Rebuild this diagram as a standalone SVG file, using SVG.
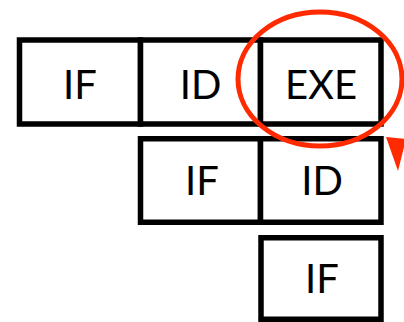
<svg xmlns="http://www.w3.org/2000/svg" width="404" height="322" viewBox="0 0 404 322">
<style>
.box{fill:#fff;stroke:#000;stroke-width:5.5}
.lbl{font-family:Lato,"Liberation Sans",sans-serif;font-size:40px;fill:#000;text-anchor:middle}
.hl{fill:none;stroke:#ff2a00;stroke-width:5}
</style>
<rect width="404" height="322" fill="#fff"/>
<g id="r1-if"><rect class="box" x="19.5" y="40" width="121" height="84"/><text class="lbl" x="80" y="99">IF</text></g>
<g id="r1-id"><rect class="box" x="140.5" y="40" width="120" height="84"/><text class="lbl" x="200.5" y="99">ID</text></g>
<g id="r1-exe"><rect class="box" x="260.5" y="40" width="120.5" height="84"/><text class="lbl" x="321" y="99">EXE</text></g>
<g id="r2-if"><rect class="box" x="140.5" y="138.75" width="120" height="83.5"/><text class="lbl" x="202" y="195">IF</text></g>
<g id="r2-id"><rect class="box" x="260.5" y="138.75" width="120.5" height="83.5"/><text class="lbl" x="322" y="195">ID</text></g>
<g id="r3-if"><rect class="box" x="261" y="237.75" width="120" height="81.5"/><text class="lbl" x="322" y="293">IF</text></g>
<g id="highlight"><ellipse class="hl" cx="320" cy="79" rx="82" ry="67"/></g>
<g id="connectors"><polygon points="386,137 406,139 398,171" fill="#ff2a00"/></g>
</svg>
